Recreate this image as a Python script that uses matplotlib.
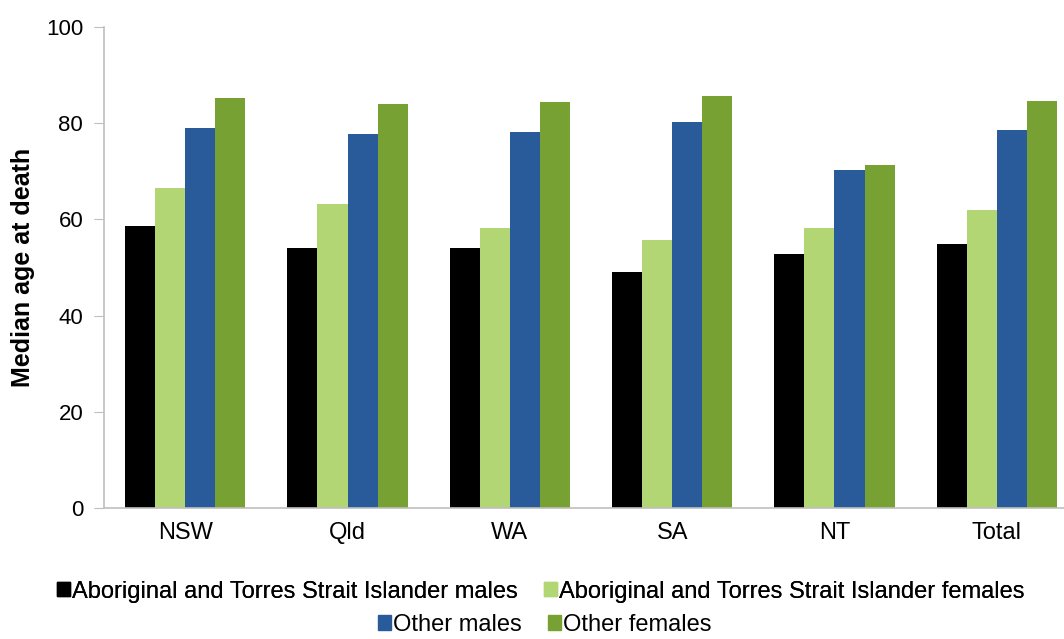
import matplotlib.pyplot as plt
import numpy as np
from matplotlib.patches import Patch

plt.rcParams['font.family'] = ['Liberation Sans', 'DejaVu Sans']

# Data
regions = ["NSW", "Qld", "WA", "SA", "NT", "Total"]
atsi_males = [58.6, 54.0, 54.0, 49.1, 52.8, 54.9]
atsi_females = [66.5, 63.2, 58.2, 55.7, 58.2, 62.0]
other_males = [79.0, 77.8, 78.2, 80.2, 70.3, 78.6]
other_females = [85.2, 84.0, 84.4, 85.6, 71.3, 84.6]

series = [
    ("Aboriginal and Torres Strait Islander males", atsi_males, "#000000"),
    ("Aboriginal and Torres Strait Islander females", atsi_females, "#B3D675"),
    ("Other males", other_males, "#295B9A"),
    ("Other females", other_females, "#77A132"),
]

fig = plt.figure(figsize=(10.64, 6.39), dpi=100)
ax = fig.add_axes([104 / 1064, 131 / 639, 974 / 1064, 481 / 639])

x = np.arange(len(regions))
width = 0.185
for i, (name, vals, color) in enumerate(series):
    ax.bar(x + (i - 1.5) * width, vals, width, color=color, label=name, zorder=2)

ax.set_xlim(-0.5, len(regions) - 0.5)
ax.set_ylim(0, 100)
ax.set_yticks(range(0, 101, 20))
ax.set_xticks(x)
ax.set_xticklabels(regions, fontsize=17)
ax.tick_params(axis="x", length=0, pad=10)
ax.tick_params(axis="y", labelsize=16, length=7, color="#BFBFBF", pad=8)

for s in ["top", "right"]:
    ax.spines[s].set_visible(False)
for s in ["left", "bottom"]:
    ax.spines[s].set_color("#BFBFBF")
    ax.spines[s].set_linewidth(1.2)

ax.set_ylabel("Median age at death", fontsize=18, fontweight="bold", labelpad=8)

handles = [Patch(color=c, label=n) for n, _, c in series]
leg_kw = dict(ncol=2, frameon=False, fontsize=17, handlelength=0.55,
              handleheight=0.55, handletextpad=0.1, columnspacing=1.1,
              borderaxespad=0, borderpad=0)
leg1 = fig.legend(handles=handles[:2], loc="center", bbox_to_anchor=(0.508, 0.074), **leg_kw)
fig.add_artist(leg1)
fig.legend(handles=handles[2:], loc="center", bbox_to_anchor=(0.512, 0.022), **leg_kw)

plt.savefig("out.png", dpi=100)
